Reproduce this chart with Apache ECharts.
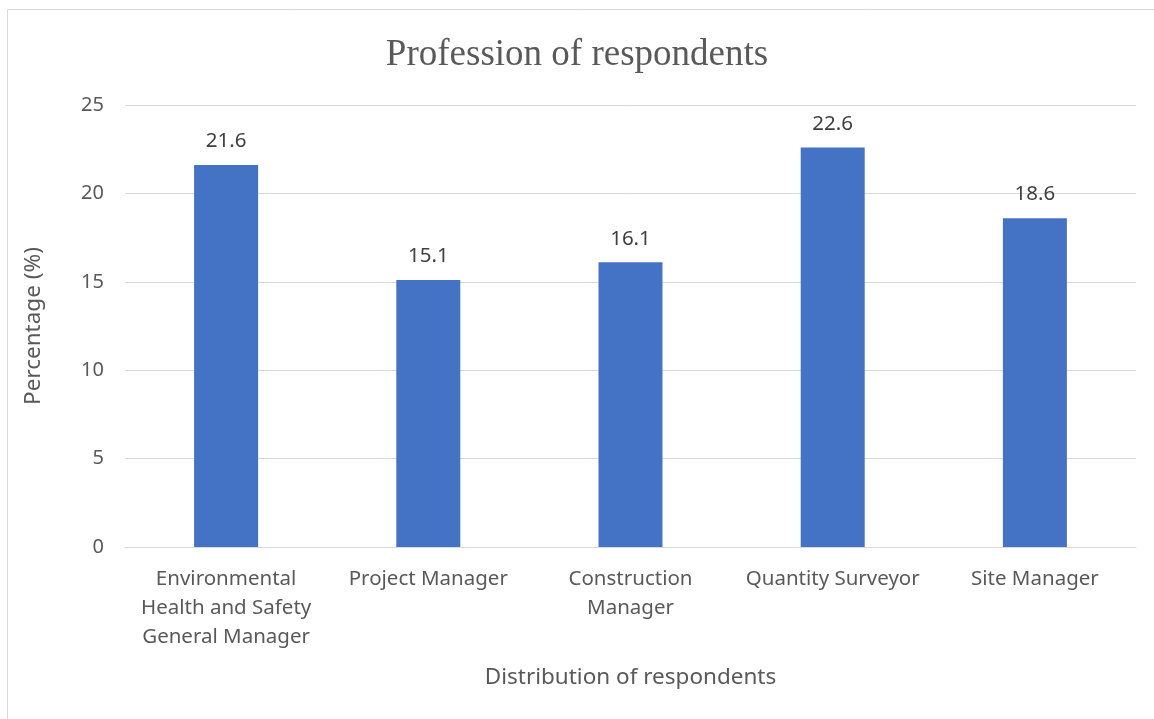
<!DOCTYPE html>
<html>
<head>
<meta charset="utf-8">
<script src="https://cdn.jsdelivr.net/npm/echarts@6/dist/echarts.min.js"></script>
<style>
  html, body { margin: 0; padding: 0; background: #fff; }
  #main { width: 1154px; height: 719px; }
</style>
</head>
<body>
<div id="main"></div>
<script>
// profession categories (x axis)
var categories = [
  'Environmental\nHealth and Safety\nGeneral Manager',
  'Project Manager',
  'Construction\nManager',
  'Quantity Surveyor',
  'Site Manager'
];
// percentage of respondents
var percentages = [21.6, 15.1, 16.1, 22.6, 18.6];
var yTicks = [0, 5, 10, 15, 20, 25];

var font = '"Noto Sans", "Open Sans", sans-serif';

var myChart = echarts.init(document.getElementById('main'));
var option = {
  backgroundColor: '#fff',
  animation: false,
  title: {
    text: 'Profession of respondents',
    left: 'center',
    top: 32,
    textStyle: {
      fontFamily: '"Liberation Serif", "DejaVu Serif", serif',
      fontSize: 37,
      fontWeight: 'normal',
      color: '#595959'
    }
  },
  graphic: [{
    type: 'rect',
    shape: { x: 7.5, y: 9.5, width: 1200, height: 800 },
    style: { fill: 'none', stroke: '#d9d9d9', lineWidth: 1 },
    silent: true
  }],
  grid: { left: 125, right: 18, top: 105, bottom: 172 },
  xAxis: {
    type: 'category',
    data: categories,
    name: 'Distribution of respondents',
    nameLocation: 'middle',
    nameGap: 119,
    nameTextStyle: { fontFamily: font, fontSize: 22.5, color: '#595959' },
    axisLine: { lineStyle: { color: '#d9d9d9', width: 1 } },
    axisTick: { show: false },
    axisLabel: {
      interval: 0,
      margin: 18,
      fontFamily: font,
      fontSize: 20.5,
      lineHeight: 29,
      color: '#595959'
    }
  },
  yAxis: {
    type: 'value',
    min: yTicks[0],
    max: yTicks[yTicks.length - 1],
    interval: 5,
    name: 'Percentage (%)',
    nameLocation: 'middle',
    nameGap: 80,
    nameTextStyle: { fontFamily: font, fontSize: 22.5, color: '#595959' },
    axisLine: { show: false },
    axisTick: { show: false },
    axisLabel: { margin: 21, fontFamily: font, fontSize: 20, color: '#595959' },
    splitLine: { lineStyle: { color: '#d9d9d9', width: 1 } }
  },
  series: [{
    type: 'bar',
    data: percentages,
    barWidth: 64,
    itemStyle: { color: '#4472c4' },
    label: {
      show: true,
      position: 'top',
      distance: 13,
      fontFamily: font,
      fontSize: 20.5,
      color: '#404040'
    }
  }]
};
myChart.setOption(option);
</script>
</body>
</html>
